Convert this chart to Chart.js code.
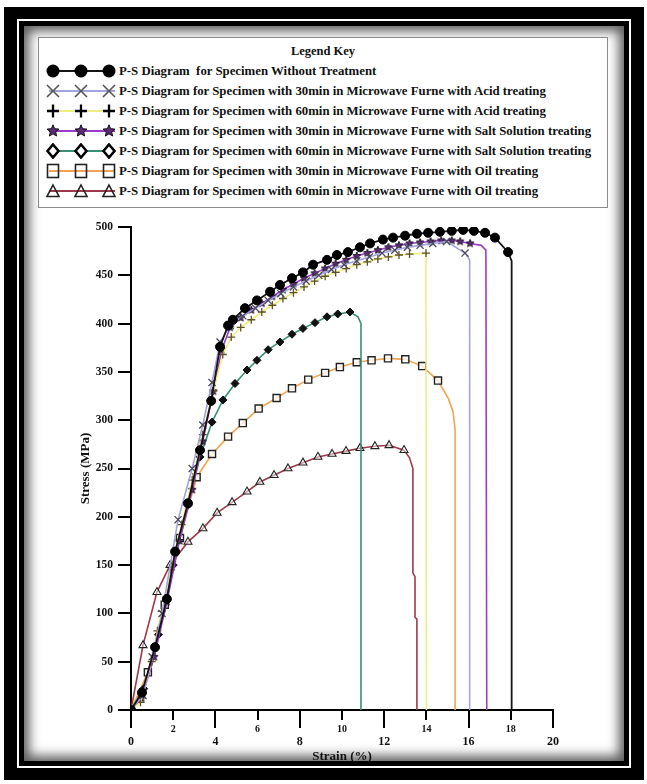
<!DOCTYPE html>
<html>
<head>
<meta charset="utf-8">
<script src="https://cdn.jsdelivr.net/npm/chart.js@4.4.1/dist/chart.umd.min.js"></script>
<style>
  html, body { margin: 0; padding: 0; background: #fff; }
  body { width: 647px; height: 784px; position: relative; overflow: hidden; font-family: 'Liberation Serif', 'Times New Roman', serif; }
  .outer { position: absolute; left: 4px; top: 7px; width: 640px; height: 773px; background: #000; }
  .ring { position: absolute; left: 13px; top: 12px; right: 13px; bottom: 12px; border: 2px solid #fff; background: #000; }
  .paper { position: absolute; left: 5px; top: 5px; right: 5px; bottom: 5px; background: #fff; box-shadow: inset 0 0 12px 5px rgba(0,0,0,0.65); }
  #legend { position: absolute; left: 38px; top: 37px; width: 570px; height: 171px; box-sizing: border-box; border: 1.5px solid #8c8c8c; background: #fff; z-index: 2; }
  #legend .title { position: absolute; left: 0; right: 0; top: 6px; text-align: center; font-weight: bold; font-size: 12.5px; color: #111; }
  #legend .row { position: absolute; left: 6px; height: 16px; white-space: pre; font-weight: bold; font-size: 12.8px; color: #111; line-height: 16px; }
  #legend .row svg { position: absolute; left: 0; top: 0; }
  #legend .row span { position: absolute; left: 74px; top: 0; }
  #chart { position: absolute; left: 0; top: 0; z-index: 1; }
</style>
</head>
<body>
<div class="outer"><div class="ring"><div class="paper"></div></div></div>
<div id="legend"><div class="title">Legend Key</div></div>
<canvas id="chart" width="647" height="784"></canvas>
<script>
// ---- data (strain %, stress MPa) ----
const seriesNames = [
  'P-S Diagram  for Specimen Without Treatment',
  'P-S Diagram for Specimen with 30min in Microwave Furne with Acid treating',
  'P-S Diagram for Specimen with 60min in Microwave Furne with Acid treating',
  'P-S Diagram for Specimen with 30min in Microwave Furne with Salt Solution treating',
  'P-S Diagram for Specimen with 60min in Microwave Furne with Salt Solution treating',
  'P-S Diagram for Specimen with 30min in Microwave Furne with Oil treating',
  'P-S Diagram for Specimen with 60min in Microwave Furne with Oil treating',
];

const noTreatStrain = [0, 0.52, 1.14, 1.7, 2.09, 2.7, 3.27, 3.8, 4.22, 4.6, 4.83, 5.4, 5.97, 6.59, 7.06, 7.63, 8.15, 8.63, 9.29, 9.76, 10.28, 10.85, 11.33, 11.94, 12.42, 12.99, 13.55, 14.08, 14.64, 15.2, 15.74, 16.25, 16.78, 17.25, 17.87, 18.04, 18.04];
const noTreatStress = [0, 18, 65, 115, 164, 214, 269, 320, 376, 398, 404, 416, 424, 433, 440, 447, 453, 461, 466, 471, 474, 479, 483, 487, 489, 491, 493, 494, 495, 496, 497, 496, 494, 489, 474, 465, 0];

const acid30Strain = [0, 0.57, 1.0, 1.47, 2.23, 2.9, 3.4, 3.84, 4.22, 4.7, 5.3, 5.9, 6.5, 7.1, 7.7, 8.3, 8.9, 9.5, 10.1, 10.7, 11.3, 11.9, 12.5, 13.1, 13.7, 14.3, 14.96, 15.83, 16.05, 16.05];
const acid30Stress = [0, 15, 55, 100, 197, 250, 295, 339, 381, 398, 408, 416, 424, 431, 438, 444, 450, 456, 461, 465, 469, 473, 476, 479, 481, 483, 485, 473, 466, 0];

const acid60Strain = [0, 0.45, 0.98, 1.25, 1.45, 1.9, 2.4, 2.9, 3.4, 3.9, 4.35, 4.75, 5.2, 5.7, 6.2, 6.7, 7.2, 7.7, 8.2, 8.7, 9.2, 9.7, 10.2, 10.7, 11.2, 11.7, 12.2, 12.7, 13.2, 13.98, 14.0];
const acid60Stress = [0, 8, 50, 82, 102, 145, 192, 238, 285, 330, 368, 386, 396, 404, 412, 419, 426, 432, 438, 444, 449, 453, 457, 461, 464, 467, 469, 471, 472, 473, 0];

const salt30Strain = [0, 0.5, 1.1, 1.7, 2.3, 2.9, 3.4, 3.9, 4.3, 4.7, 5.2, 5.7, 6.2, 6.7, 7.2, 7.7, 8.2, 8.7, 9.2, 9.7, 10.2, 10.7, 11.2, 11.7, 12.2, 12.7, 13.2, 13.7, 14.2, 14.7, 15.2, 15.6, 16.07, 16.6, 16.82, 16.86];
const salt30Stress = [0, 12, 55, 112, 175, 228, 278, 330, 373, 396, 406, 414, 421, 428, 435, 441, 447, 452, 457, 462, 466, 470, 473, 476, 479, 481, 483, 484, 485, 486, 486, 485, 483, 481, 476, 0];

const salt60Strain = [0, 0.6, 1.3, 2.0, 2.7, 3.27, 3.84, 4.36, 4.93, 5.5, 5.97, 6.5, 7.06, 7.63, 8.15, 8.72, 9.29, 9.8, 10.38, 10.76, 10.9, 10.9];
const salt60Stress = [0, 22, 78, 150, 212, 262, 298, 321, 338, 352, 362, 373, 381, 389, 395, 401, 407, 410, 412, 407, 400, 0];

const oil30Strain = [0, 0.8, 1.6, 2.32, 3.11, 3.84, 4.6, 5.3, 6.05, 6.9, 7.63, 8.4, 9.2, 9.9, 10.7, 11.4, 12.18, 13.0, 13.8, 14.55, 15.05, 15.27, 15.36, 15.36];
const oil30Stress = [0, 39, 109, 178, 241, 265, 283, 297, 312, 323, 333, 342, 349, 355, 360, 362, 364, 363, 356, 341, 322, 308, 290, 0];

const oil60Strain = [0, 0.57, 1.23, 1.85, 2.7, 3.41, 4.08, 4.79, 5.5, 6.11, 6.78, 7.44, 8.15, 8.86, 9.53, 10.19, 10.85, 11.56, 12.23, 12.94, 13.2, 13.36, 13.36, 13.46, 13.46, 13.55, 13.55];
const oil60Stress = [0, 67, 122, 150, 174, 188, 204, 215, 226, 236, 243, 250, 256, 262, 265, 268, 271, 273, 274, 269, 261, 250, 142, 138, 96, 94, 0];

// points at the end of each curve that carry no marker (the fracture drop)
const unmarkedTail = [2, 2, 1, 3, 3, 4, 7];

const strainTicks = [0, 2, 4, 6, 8, 10, 12, 14, 16, 18, 20];
const stressTicks = [0, 50, 100, 150, 200, 250, 300, 350, 400, 450, 500];

// ---- styling ----
const FONT = "'Liberation Serif', 'Times New Roman', serif";
const lineColors = ['#151515', '#a3a3e0', '#eeee80', '#9a3cc8', '#3a8f78', '#f0a452', '#9c3a4c'];
const markerKinds = ['circle', 'x', 'plus', 'star', 'diamond', 'square', 'triangle'];

function starImage(r, fill, stroke) {
  const size = Math.ceil(r * 2 + 2);
  const c = document.createElement('canvas');
  c.width = c.height = size;
  const g = c.getContext('2d');
  g.beginPath();
  for (let i = 0; i < 10; i++) {
    const a = -Math.PI / 2 + i * Math.PI / 5;
    const rr = i % 2 === 0 ? r : r * 0.45;
    g.lineTo(size / 2 + rr * Math.cos(a), size / 2 + rr * Math.sin(a));
  }
  g.closePath();
  g.fillStyle = fill;
  g.fill();
  g.lineWidth = 1;
  g.strokeStyle = stroke;
  g.stroke();
  return c;
}

const markerStyle = {
  circle:   { pointStyle: 'circle',   radius: 4.5, bg: '#000', border: '#000', bw: 1 },
  x:        { pointStyle: 'crossRot', radius: 5,   bg: '#4a4a5c', border: '#4a4a5c', bw: 1.3 },
  plus:     { pointStyle: 'cross',    radius: 4,   bg: '#5e5028', border: '#5e5028', bw: 1.3 },
  star:     { pointStyle: starImage(4, '#5b2b78', '#1a1020'), radius: 4, bg: '#000', border: '#000', bw: 1 },
  diamond:  { pointStyle: 'rectRot',  radius: 4,   bg: '#111', border: '#111', bw: 1 },
  square:   { pointStyle: 'rect',     radius: 5,   bg: 'rgba(255,255,255,0.75)', border: '#222', bw: 1.4 },
  triangle: { pointStyle: 'triangle', radius: 4.6, bg: 'rgba(255,255,255,0.5)', border: '#222', bw: 1.1 },
};

const allStrain = [noTreatStrain, acid30Strain, acid60Strain, salt30Strain, salt60Strain, oil30Strain, oil60Strain];
const allStress = [noTreatStress, acid30Stress, acid60Stress, salt30Stress, salt60Stress, oil30Stress, oil60Stress];

const datasets = allStrain.map((xs, i) => {
  const m = markerStyle[markerKinds[i]];
  const marked = xs.length - unmarkedTail[i];
  return {
    label: seriesNames[i],
    data: xs.map((x, j) => ({ x, y: allStress[i][j] })),
    showLine: true,
    borderColor: lineColors[i],
    borderWidth: i === 0 ? 1.8 : 1.6,
    tension: 0,
    fill: false,
    pointStyle: m.pointStyle,
    pointRadius: ctx => ctx.dataIndex < marked ? m.radius : 0,
    pointBackgroundColor: m.bg,
    pointBorderColor: m.border,
    pointBorderWidth: m.bw,
    pointHoverRadius: 0,
  };
});

// ---- legend box (html, markers as small svg) ----
function legendSymbol(kind, cx, cy) {
  switch (kind) {
    case 'circle': return `<circle cx="${cx}" cy="${cy}" r="6.5" fill="#000"/>`;
    case 'x': return `<path d="M${cx-6} ${cy-6}L${cx+6} ${cy+6}M${cx+6} ${cy-6}L${cx-6} ${cy+6}" stroke="#555" stroke-width="1.6"/>`;
    case 'plus': return `<path d="M${cx-6} ${cy}L${cx+6} ${cy}M${cx} ${cy-6.5}L${cx} ${cy+6.5}" stroke="#000" stroke-width="2.3"/>`;
    case 'star': {
      const pts = [];
      for (let i = 0; i < 10; i++) {
        const a = -Math.PI / 2 + i * Math.PI / 5;
        const r = i % 2 === 0 ? 6.2 : 2.8;
        pts.push((cx + r * Math.cos(a)).toFixed(1) + ',' + (cy + r * Math.sin(a)).toFixed(1));
      }
      return `<polygon points="${pts.join(' ')}" fill="#5b2b78" stroke="#111" stroke-width="1"/>`;
    }
    case 'diamond': return `<polygon points="${cx},${cy-6.5} ${cx+5.5},${cy} ${cx},${cy+6.5} ${cx-5.5},${cy}" fill="#fff" stroke="#000" stroke-width="2.6"/>`;
    case 'square': return `<rect x="${cx-5.5}" y="${cy-6.5}" width="11" height="13" fill="none" stroke="#222" stroke-width="1.6"/>`;
    case 'triangle': return `<polygon points="${cx},${cy-6} ${cx+6},${cy+5.5} ${cx-6},${cy+5.5}" fill="none" stroke="#222" stroke-width="1.6"/>`;
  }
  return '';
}

const legendEl = document.getElementById('legend');
seriesNames.forEach((name, i) => {
  const row = document.createElement('div');
  row.className = 'row';
  row.style.top = (25 + i * 20) + 'px';
  const sym = [8, 36, 64].map(cx => legendSymbol(markerKinds[i], cx, 8)).join('');
  row.innerHTML = `<svg width="74" height="16"><line x1="4" y1="8" x2="70" y2="8" stroke="${lineColors[i]}" stroke-width="1.8"/>${sym}</svg><span>${name}</span>`;
  legendEl.appendChild(row);
});

// longer tick marks at 0, 4, 8 ... on the strain axis
const majorTickPlugin = {
  id: 'majorTicks',
  afterDraw(chart) {
    const s = chart.scales.x;
    const g = chart.ctx;
    g.save();
    g.strokeStyle = '#000';
    g.lineWidth = 2;
    strainTicks.filter(v => v % 4 === 0).forEach(v => {
      const px = Math.round(s.getPixelForValue(v));
      g.beginPath();
      g.moveTo(px, s.top + 9);
      g.lineTo(px, s.top + 18);
      g.stroke();
    });
    g.restore();
  },
};

new Chart(document.getElementById('chart'), {
  type: 'scatter',
  data: { datasets },
  plugins: [majorTickPlugin],
  options: {
    responsive: false,
    animation: false,
    layout: { padding: { left: 70, right: 94, top: 227, bottom: 20 } },
    plugins: { legend: { display: false }, tooltip: { enabled: false } },
    scales: {
      x: {
        type: 'linear',
        min: 0,
        max: 20,
        afterFit: s => { s.height = 54; },
        afterBuildTicks: s => { s.ticks = strainTicks.map(v => ({ value: v })); },
        grid: { drawOnChartArea: false, tickLength: 10, color: '#000', lineWidth: 2 },
        border: { display: true, color: '#000', width: 2 },
        ticks: {
          autoSkip: false,
          maxRotation: 0,
          padding: 4,
          color: '#111',
          font: c => (c.tick && c.tick.value % 4 === 0)
            ? { family: FONT, size: 12, weight: 'bold', lineHeight: 1 }
            : { family: FONT, size: 10, weight: 'bold', lineHeight: 1 },
          callback: v => (v % 4 === 0 ? ['', String(v)] : String(v)),
        },
        title: { display: true, text: 'Strain (%)', color: '#111', font: { family: FONT, size: 13, weight: 'bold' }, padding: { top: 0, bottom: 0 } },
      },
      y: {
        min: 0,
        max: 500,
        afterFit: s => { s.width = 61; },
        afterBuildTicks: s => { s.ticks = stressTicks.map(v => ({ value: v })); },
        grid: { drawOnChartArea: false, tickLength: 13, color: '#000', lineWidth: 2 },
        border: { display: true, color: '#000', width: 2 },
        ticks: { autoSkip: false, padding: 5, color: '#111', font: { family: FONT, size: 11.5, weight: 'bold' } },
        title: { display: true, text: 'Stress (MPa)', color: '#111', font: { family: FONT, size: 13, weight: 'bold' }, padding: { top: 8, bottom: 0 } },
      },
    },
  },
});
</script>
</body>
</html>
